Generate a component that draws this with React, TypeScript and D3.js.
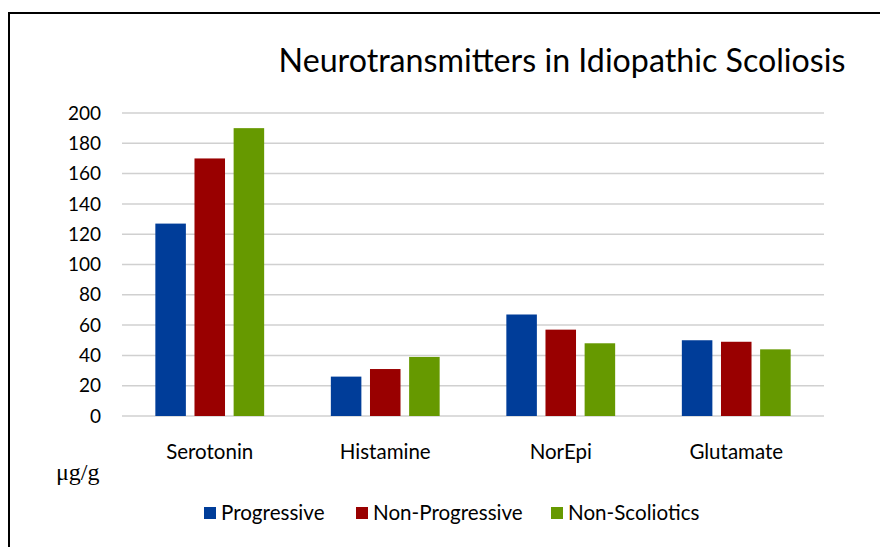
import React from "react";
import * as d3 from "d3";

const categories = ["Serotonin", "Histamine", "NorEpi", "Glutamate"];
const seriesNames = ["Progressive", "Non-Progressive", "Non-Scoliotics"];
const progressive = [127, 26, 67, 50];
const nonProgressive = [170, 31, 57, 49];
const nonScoliotics = [190, 39, 48, 44];
const yTicks = [0, 20, 40, 60, 80, 100, 120, 140, 160, 180, 200];
const COLORS = ["#003d99", "#990000", "#669900"];

const W = 880;
const H = 547;
const plot = { left: 122, right: 824, top: 113, bottom: 416 };
const FONT = "Lato, 'Open Sans', sans-serif";

export default function App() {
  const series = [progressive, nonProgressive, nonScoliotics];

  const x = d3.scaleBand().domain(categories).range([plot.left, plot.right]).paddingInner(0.38).paddingOuter(0.19);
  const xInner = d3.scaleBand().domain(seriesNames).range([0, x.bandwidth()]).paddingInner(0.22);
  const y = d3.scaleLinear().domain([0, 200]).range([plot.bottom, plot.top]);

  const legendX = [204, 356, 551];

  return (
    <div style={{ position: "absolute", left: 0, top: 0 }}>
      <svg width={W} height={H} style={{ display: "block", background: "#fff" }}>
        <rect x={9} y={13} width={W} height={H} fill="none" stroke="#000" strokeWidth={2} />
        <text x={562} y={72} textAnchor="middle" fontFamily={FONT} fontSize={32.2} fill="#000">
          Neurotransmitters in Idiopathic Scoliosis
        </text>

        {yTicks.map((t) => (
          <g key={t}>
            <line x1={plot.left} x2={plot.right} y1={y(t)} y2={y(t)} stroke="#d0d0d0" strokeWidth={1.5} />
            <text x={101} y={y(t)} dy="0.35em" textAnchor="end" fontFamily={FONT} fontSize={19} fill="#000">
              {t}
            </text>
          </g>
        ))}

        {categories.map((c, i) => (
          <g key={c} transform={`translate(${x(c)},0)`}>
            {series.map((s, j) => (
              <rect
                key={j}
                x={xInner(seriesNames[j])}
                y={y(s[i])}
                width={xInner.bandwidth()}
                height={y(0) - y(s[i])}
                fill={COLORS[j]}
              />
            ))}
            <text x={x.bandwidth() / 2} y={459} textAnchor="middle" fontFamily={FONT} fontSize={20.5} fill="#000">
              {c}
            </text>
          </g>
        ))}

        <text x={56} y={480} fontFamily="'Liberation Serif', 'DejaVu Serif', serif" fontSize={24} fill="#000">
          μg/g
        </text>

        {seriesNames.map((n, j) => (
          <g key={n}>
            <rect x={legendX[j]} y={507} width={12} height={12} fill={COLORS[j]} />
            <text x={legendX[j] + 17} y={520} fontFamily={FONT} fontSize={20.6} fill="#000">
              {n}
            </text>
          </g>
        ))}
      </svg>
    </div>
  );
}
